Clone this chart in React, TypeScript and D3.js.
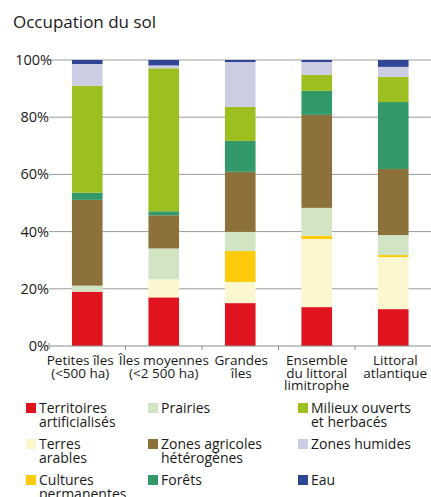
import React from "react";
import * as d3 from "d3";

const categories = [
  ["Petites îles", "(<500 ha)"],
  ["Îles moyennes", "(<2 500 ha)"],
  ["Grandes", "îles"],
  ["Ensemble", "du littoral", "limitrophe"],
  ["Littoral", "atlantique"],
];

const seriesNames = [
  "Territoires artificialisés",
  "Terres arables",
  "Cultures permanentes",
  "Prairies",
  "Zones agricoles hétérogènes",
  "Forêts",
  "Milieux ouverts et herbacés",
  "Zones humides",
  "Eau",
];

const artificialises = [19, 17, 15, 13.6, 12.9];
const terresArables = [0, 6.3, 7.4, 23.8, 18.2];
const culturesPermanentes = [0, 0, 10.8, 1.1, 0.7];
const prairies = [2.1, 10.8, 6.7, 9.8, 7];
const zonesAgricoles = [30, 11.6, 21, 32.5, 23.1];
const forets = [2.5, 1.4, 10.8, 8.4, 23.4];
const milieuxOuverts = [37.4, 50, 11.9, 5.6, 8.8];
const zonesHumides = [7.6, 1, 15.7, 4.5, 3.5];
const eau = [1.4, 1.9, 0.7, 0.7, 2.4];

const seriesValues = [
  artificialises,
  terresArables,
  culturesPermanentes,
  prairies,
  zonesAgricoles,
  forets,
  milieuxOuverts,
  zonesHumides,
  eau,
];

const colors = [
  "#e0141e",
  "#fcf7cf",
  "#fdcb0c",
  "#d1e4c4",
  "#8c713a",
  "#33996a",
  "#9ebf20",
  "#cccce3",
  "#2f4596",
];

const yTicks = [0, 20, 40, 60, 80, 100];

const legendItems = [
  { s: 0, lines: ["Territoires", "artificialisés"], col: 0, row: 0 },
  { s: 1, lines: ["Terres", "arables"], col: 0, row: 1 },
  { s: 2, lines: ["Cultures", "permanentes"], col: 0, row: 2 },
  { s: 3, lines: ["Prairies"], col: 1, row: 0 },
  { s: 4, lines: ["Zones agricoles", "hétérogènes"], col: 1, row: 1 },
  { s: 5, lines: ["Forêts"], col: 1, row: 2 },
  { s: 6, lines: ["Milieux ouverts", "et herbacés"], col: 2, row: 0 },
  { s: 7, lines: ["Zones humides"], col: 2, row: 1 },
  { s: 8, lines: ["Eau"], col: 2, row: 2 },
];

const FONT = "'Open Sans', 'Noto Sans', sans-serif";

export default function App() {
  const W = 431;
  const H = 497;
  const left = 49;
  const right = 431.5;
  const top = 60;
  const bottom = 346;
  const labelShift = [-7, 0, 1, 0, 2];

  const x = d3
    .scaleBand<number>()
    .domain(categories.map((_, i) => i))
    .range([left, right])
    .paddingInner(0.6)
    .paddingOuter(0.3);
  const xOuter = d3
    .scaleBand<number>()
    .domain(categories.map((_, i) => i))
    .range([left, right]);
  const y = d3.scaleLinear().domain([0, 100]).range([bottom, top]);

  const rows = categories.map((_, i) => {
    const r: Record<string, number> = {};
    seriesValues.forEach((vals, s) => (r["s" + s] = vals[i]));
    return r;
  });
  const stack = d3.stack<Record<string, number>>().keys(seriesValues.map((_, s) => "s" + s));
  const stacked = stack(rows);

  const colX = [26, 148, 298];
  const rowY = [403, 439, 475];

  return (
    <svg
      width={W}
      height={H}
      style={{ position: "absolute", left: 0, top: 0, background: "#fff" }}
      fontFamily={FONT}
    >
      <text x={13} y={28} fontSize={17} fill="#1a1a1a">
        Occupation du sol
      </text>

      {yTicks.map((t) => (
        <g key={t}>
          {t > 0 && (
            <line x1={left} x2={W} y1={y(t)} y2={y(t)} stroke="#9a9a9a" strokeWidth={1} />
          )}
          <text
            x={t === 100 ? 52 : 49}
            y={y(t) + 5}
            fontSize={14.5}
            textAnchor="end"
            fill="#1a1a1a"
          >
            {t}%
          </text>
        </g>
      ))}

      {stacked.map((layer, s) =>
        layer.map((d, i) => (
          <rect
            key={s + "-" + i}
            x={x(i)}
            width={x.bandwidth()}
            y={y(d[1])}
            height={Math.max(0, y(d[0]) - y(d[1]))}
            fill={colors[s]}
          />
        ))
      )}

      <line x1={left} x2={W} y1={bottom} y2={bottom} stroke="#8a8a8a" strokeWidth={1} />
      <line x1={left} x2={left} y1={bottom - 3} y2={bottom + 3} stroke="#8a8a8a" />
      {categories.map((_, i) =>
        i > 0 ? (
          <line
            key={i}
            x1={xOuter(i)}
            x2={xOuter(i)}
            y1={bottom}
            y2={bottom + 4}
            stroke="#8a8a8a"
          />
        ) : null
      )}

      {categories.map((lines, i) => {
        const cx = (xOuter(i) as number) + xOuter.bandwidth() / 2 + labelShift[i];
        return (
          <text key={i} x={cx} y={365} fontSize={13.5} textAnchor="middle" fill="#1a1a1a">
            {lines.map((l, j) => (
              <tspan key={j} x={cx} dy={j === 0 ? 0 : 12.5}>
                {l}
              </tspan>
            ))}
          </text>
        );
      })}

      {legendItems.map((it) => (
        <g key={it.s}>
          <rect x={colX[it.col]} y={rowY[it.row]} width={10} height={10} fill={colors[it.s]} />
          <text x={colX[it.col] + 13} y={rowY[it.row] + 9.5} fontSize={14} fill="#1a1a1a">
            {it.lines.map((l, j) => (
              <tspan key={j} x={colX[it.col] + 13} dy={j === 0 ? 0 : 14}>
                {l}
              </tspan>
            ))}
          </text>
        </g>
      ))}
    </svg>
  );
}
